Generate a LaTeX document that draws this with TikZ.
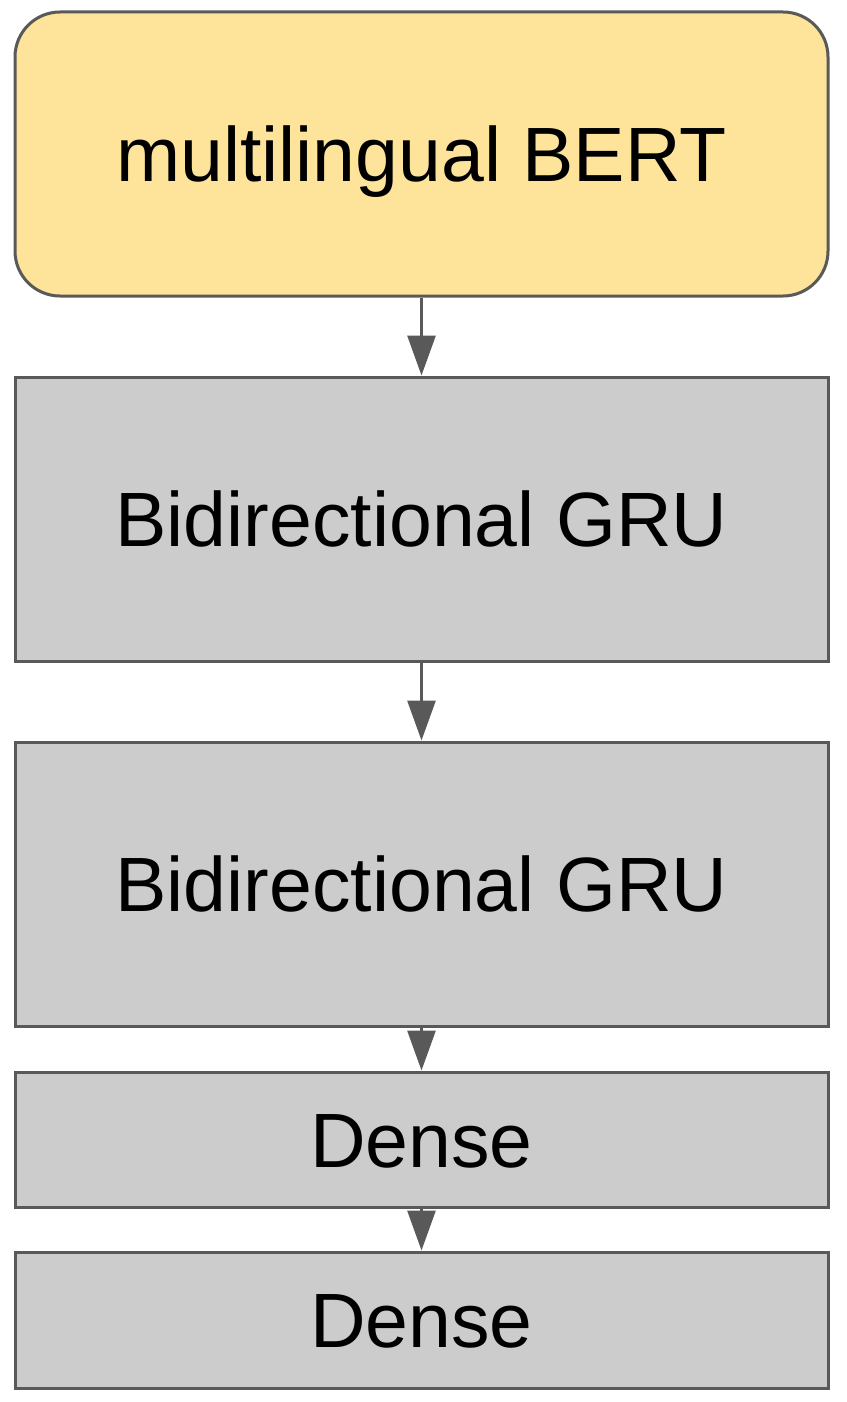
\documentclass[tikz,border=0pt]{standalone}
\usepackage{fontspec}
\setmainfont{Liberation Sans}
\usetikzlibrary{arrows.meta}
\newdimen\pxsize
\setlength{\pxsize}{1pt}
\definecolor{bertfill}{HTML}{FDE49A}
\definecolor{layerfill}{HTML}{CCCCCC}
\definecolor{edgegray}{HTML}{595959}
\tikzset{
  layer/.style={draw=edgegray,line width=3\pxsize,fill=layerfill,
    minimum width=813\pxsize,inner sep=0pt,
    text height=55\pxsize,text depth=0pt,
    font=\fontsize{77}{92}\selectfont},
  flow/.style={draw=edgegray,line width=3\pxsize,
    -{Triangle[width=28pt,length=40pt]}}
}

\begin{document}
\begin{tikzpicture}[x=\pxsize,y=\pxsize]
\useasboundingbox (0,0) rectangle (846,-1402);
\node[layer,fill=bertfill,rounded corners=45\pxsize,minimum height=284\pxsize]
  (bert) at (421.5,-154) {multilingual BERT};
\node[layer,minimum height=284\pxsize] (gruA) at (421.5,-519) {Bidirectional GRU};
\node[layer,minimum height=284\pxsize] (gruB) at (421.5,-884) {Bidirectional GRU};
\node[layer,minimum height=135\pxsize] (denseA) at (421.5,-1139.5) {Dense};
\node[layer,minimum height=136\pxsize] (denseB) at (421.5,-1320) {Dense};
\foreach \lfrom/\lto in {bert/gruA,gruA/gruB,gruB/denseA,denseA/denseB}{
  \draw[flow] (\lfrom.south) -- (\lto.north);
}
\end{tikzpicture}
\end{document}
